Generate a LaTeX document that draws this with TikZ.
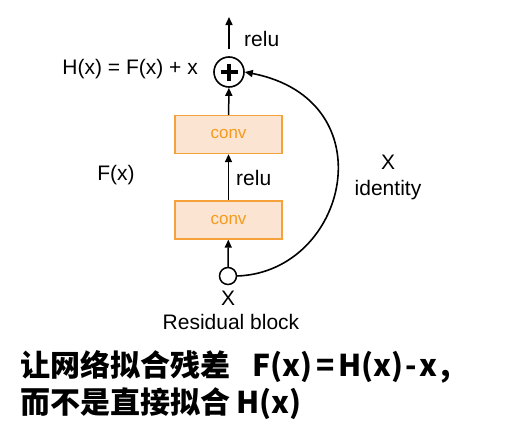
\documentclass[tikz,border=0pt]{standalone}
\usepackage{fontspec}
\setmainfont{Liberation Sans}
\newfontfamily\cjk{Noto Sans CJK SC}
\usetikzlibrary{arrows.meta}
\definecolor{boxfill}{HTML}{FBE4D1}
\definecolor{boxline}{HTML}{F5A23A}
\definecolor{boxtext}{HTML}{F59B1E}
\tikzset{
  convbox/.style={draw=boxline, fill=boxfill, line width=1.3pt, minimum width=107pt, minimum height=38pt, inner sep=0pt, text=boxtext, font=\fontsize{17}{20}\selectfont},
  lbl/.style={font=\fontsize{21}{24}\selectfont, inner sep=0pt},
  conn/.style={line width=1.5pt, -{Triangle[length=8pt,width=7pt]}},
  big/.style={anchor=west, inner sep=0pt, font=\cjk\bfseries\fontsize{30}{34}\selectfont},
}
\begin{document}
\begin{tikzpicture}[x=1pt,y=-1pt]
\useasboundingbox (0,0) rectangle (511,423);
\node[draw, circle, line width=1.6pt, minimum size=30pt, inner sep=0pt] (plus) at (229,72) {};
\draw[line width=3.4pt] (220.5,72) -- (237.5,72) (229,63.5) -- (229,80.5);
\coordinate (top) at (229,17);
\node[convbox] (c2) at (228.5,134.5) {conv};
\node[convbox] (c1) at (228.5,220) {conv};
\node[draw, circle, line width=1.5pt, minimum size=17pt, inner sep=0pt, fill=white] (inp) at (228,276) {};
\draw[conn, shorten <=7pt] (plus) -- (top);
\draw[conn] (c2) -- (plus);
\draw[conn] (c1) -- (c2);
\draw[conn] (inp) -- (c1);
\draw[line width=1.6pt, -{Triangle[length=8pt,width=7pt]}] (inp.east) .. controls (348,272) and (388,100) .. (plus.east);
\node[lbl, anchor=west] (relu1) at (244,39) {relu};
\node[lbl, anchor=west] (relu2) at (236,178) {relu};
\node[lbl, anchor=east] (hx) at (198,69) {H(x) = F(x) + x};
\node[lbl] (fx) at (116,175) {F(x)};
\node[lbl] (xid1) at (388,162) {X};
\node[lbl] (xid2) at (388,190) {identity};
\node[lbl] (xin) at (228,298) {X};
\node[lbl] (rb) at (231,322) {Residual block};
\node[big] (t1) at (20,367) {让网络拟合残差\hspace{22pt}F(x)\hspace{4pt}=\hspace{4pt}H(x)\hspace{2pt}-\hspace{2pt}x\hspace{3pt},};
\node[big] (t2) at (20,404) {而不是直接拟合\hspace{6pt}H(x)};
\end{tikzpicture}
\end{document}
